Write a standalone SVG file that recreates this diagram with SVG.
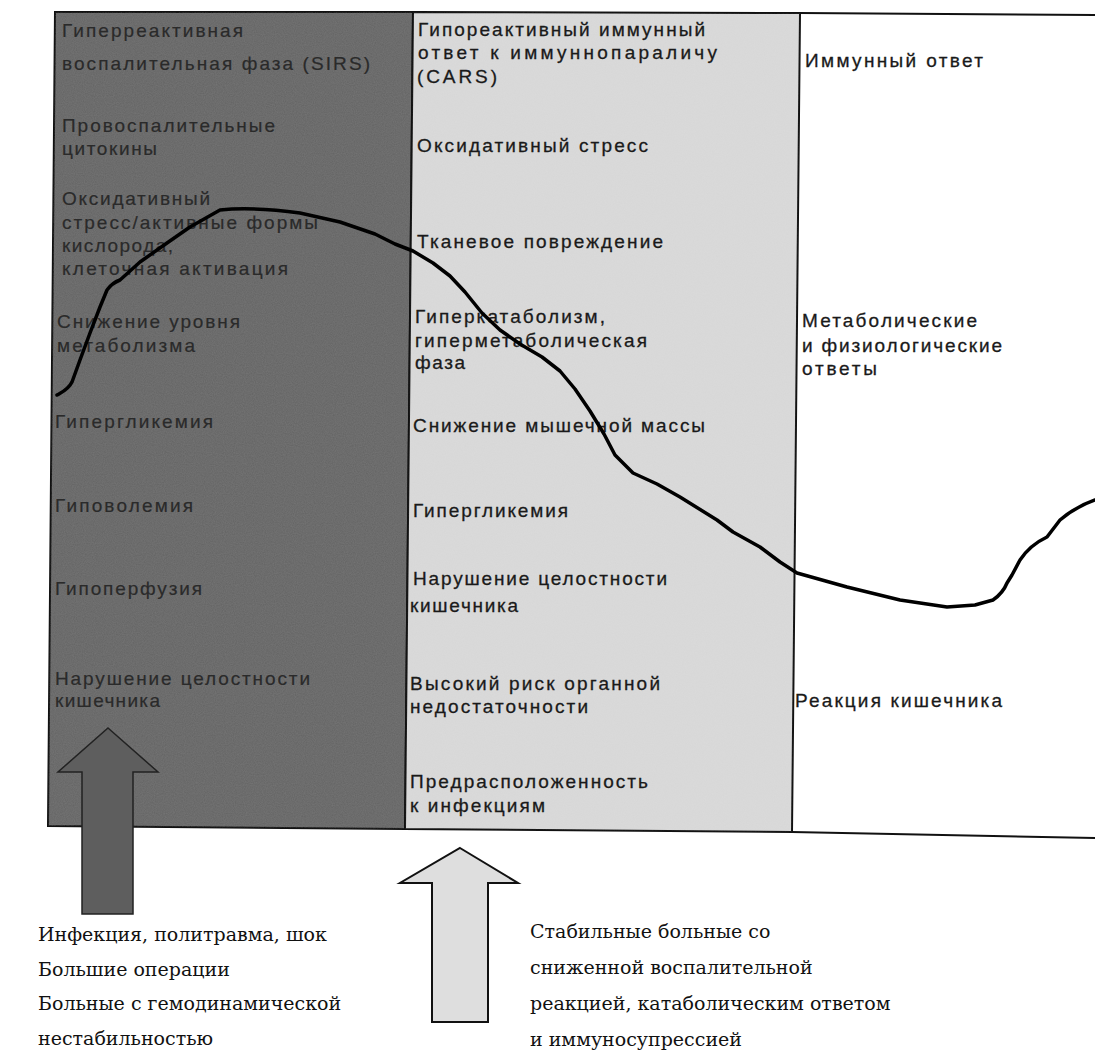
<svg xmlns="http://www.w3.org/2000/svg" width="1095" height="1057" viewBox="0 0 1095 1057">
<defs>
<style>
.t{font-family:"Liberation Sans",Arial,sans-serif;font-size:19px;fill:#1a1a1a;stroke:#1a1a1a;stroke-width:0.3}
.td{font-family:"Liberation Sans",Arial,sans-serif;font-size:19px;fill:#2a2a2a;stroke:#2a2a2a;stroke-width:0.2}
.b{font-family:"DejaVu Serif","Liberation Serif",serif;font-size:19px;fill:#111}
.frame{fill:none;stroke:#111;stroke-width:2}
</style>
<filter id="grain" x="0" y="0" width="100%" height="100%">
<feTurbulence type="fractalNoise" baseFrequency="0.9" numOctaves="2" seed="3" result="n"/>
<feColorMatrix type="matrix" values="0 0 0 0 0.5  0 0 0 0 0.5  0 0 0 0 0.5  0 0 0 0.35 -0.05"/>
<feComposite in2="SourceGraphic" operator="in"/>
</filter>
</defs>
<rect width="1095" height="1057" fill="#ffffff"/>
<g id="panel-sirs">
<polygon points="55,12 413,12 405,829 48,826" fill="#666666" stroke="#111" stroke-width="2"/>
<polygon points="55,12 413,12 405,829 48,826" fill="#000" filter="url(#grain)" opacity="0.6"/>
<text class="td" x="62" y="37" textLength="181">Гиперреактивная</text>
<text class="td" x="62" y="70" textLength="308">воспалительная фаза (SIRS)</text>
<text class="td" x="62" y="132" textLength="213">Провоспалительные</text>
<text class="td" x="62" y="155" textLength="95">цитокины</text>
<text class="td" x="62" y="205" textLength="148">Оксидативный</text>
<text class="td" x="62" y="229" textLength="256">стресс/активные формы</text>
<text class="td" x="62" y="252" textLength="111">кислорода,</text>
<text class="td" x="62" y="275" textLength="226">клеточная активация</text>
<text class="td" x="57" y="328" textLength="183">Снижение уровня</text>
<text class="td" x="57" y="352" textLength="138">метаболизма</text>
<text class="td" x="55" y="428" textLength="158">Гипергликемия</text>
<text class="td" x="55" y="512" textLength="138">Гиповолемия</text>
<text class="td" x="55" y="595" textLength="147">Гипоперфузия</text>
<text class="td" x="55" y="685" textLength="255">Нарушение целостности</text>
<text class="td" x="55" y="707" textLength="105">кишечника</text>
</g>
<g id="panel-cars">
<polygon points="413,12 800,13 792,832 405,829" fill="#dadada" stroke="#111" stroke-width="2"/>
<polygon points="413,12 800,13 792,832 405,829" fill="#000" filter="url(#grain)" opacity="0.35"/>
<text class="t" x="418" y="36" textLength="287">Гипореактивный иммунный</text>
<text class="t" x="418" y="59" textLength="299">ответ к иммуннопараличу</text>
<text class="t" x="417" y="83" textLength="80">(CARS)</text>
<text class="t" x="417" y="152" textLength="231">Оксидативный стресс</text>
<text class="t" x="417" y="248" textLength="246">Тканевое повреждение</text>
<text class="t" x="415" y="323" textLength="190">Гиперкатаболизм,</text>
<text class="t" x="415" y="347" textLength="232">гиперметаболическая</text>
<text class="t" x="415" y="369" textLength="50">фаза</text>
<text class="t" x="413" y="432" textLength="292">Снижение мышечной массы</text>
<text class="t" x="413" y="517" textLength="155">Гипергликемия</text>
<text class="t" x="413" y="585" textLength="254">Нарушение целостности</text>
<text class="t" x="410" y="612" textLength="108">кишечника</text>
<text class="t" x="410" y="690" textLength="250">Высокий риск органной</text>
<text class="t" x="410" y="713" textLength="178">недостаточности</text>
<text class="t" x="410" y="788" textLength="238">Предрасположенность</text>
<text class="t" x="410" y="812" textLength="135">к инфекциям</text>
</g>
<g id="panel-response">
<path class="frame" d="M800,13 L1095,15 M792,832 L1095,838"/>
<text class="t" x="805" y="67" textLength="178">Иммунный ответ</text>
<text class="t" x="802" y="327" textLength="175">Метаболические</text>
<text class="t" x="802" y="352" textLength="200">и физиологические</text>
<text class="t" x="802" y="375" textLength="75">ответы</text>
<text class="t" x="795" y="707" textLength="207">Реакция кишечника</text>
</g>
<g id="arrow-sirs">
<polygon points="108,728 158,772 133,772 133,914 82,914 82,772 58,772" fill="#5e5e5e" stroke="#222" stroke-width="1.5"/>
<text class="b" x="38" y="941">Инфекция, политравма, шок</text>
<text class="b" x="38" y="976">Большие операции</text>
<text class="b" x="38" y="1010">Больные с гемодинамической</text>
<text class="b" x="38" y="1045">нестабильностью</text>
</g>
<g id="arrow-cars">
<polygon points="460,848 518,883 488,883 488,1022 432,1022 432,883 400,883" fill="#dedede" stroke="#111" stroke-width="2"/>
<text class="b" x="530" y="938">Стабильные больные со</text>
<text class="b" x="530" y="974">сниженной воспалительной</text>
<text class="b" x="530" y="1010">реакцией, катаболическим ответом</text>
<text class="b" x="530" y="1046">и иммуносупрессией</text>
</g>
<g id="connectors">
<path d="M57,395 C62,392 68,390 72,382 L80,360 L90,333 L100,307 L107,290 Q112,283 120,280 L140,262 L167,243 L190,227 L220,210 C240,208 270,209 300,213 L340,222 L375,234 L395,244 L413,251 L433,263 L450,276 L465,292 L482,313 L500,330 L520,344 L542,357 L560,371 L575,389 L590,411 L604,434 L615,455 L633,473 L657,484 L680,497 L717,520 L733,532 L760,547 L780,562 L797,573 L847,587 L900,600 L947,607 L975,605 L993,600 Q1003,593 1007,583 L1012,575 L1020,560 Q1030,545 1047,537 L1060,520 Q1075,507 1095,500" fill="none" stroke="#000" stroke-width="3.5" stroke-linejoin="round" stroke-linecap="round"/>
</g>
</svg>
